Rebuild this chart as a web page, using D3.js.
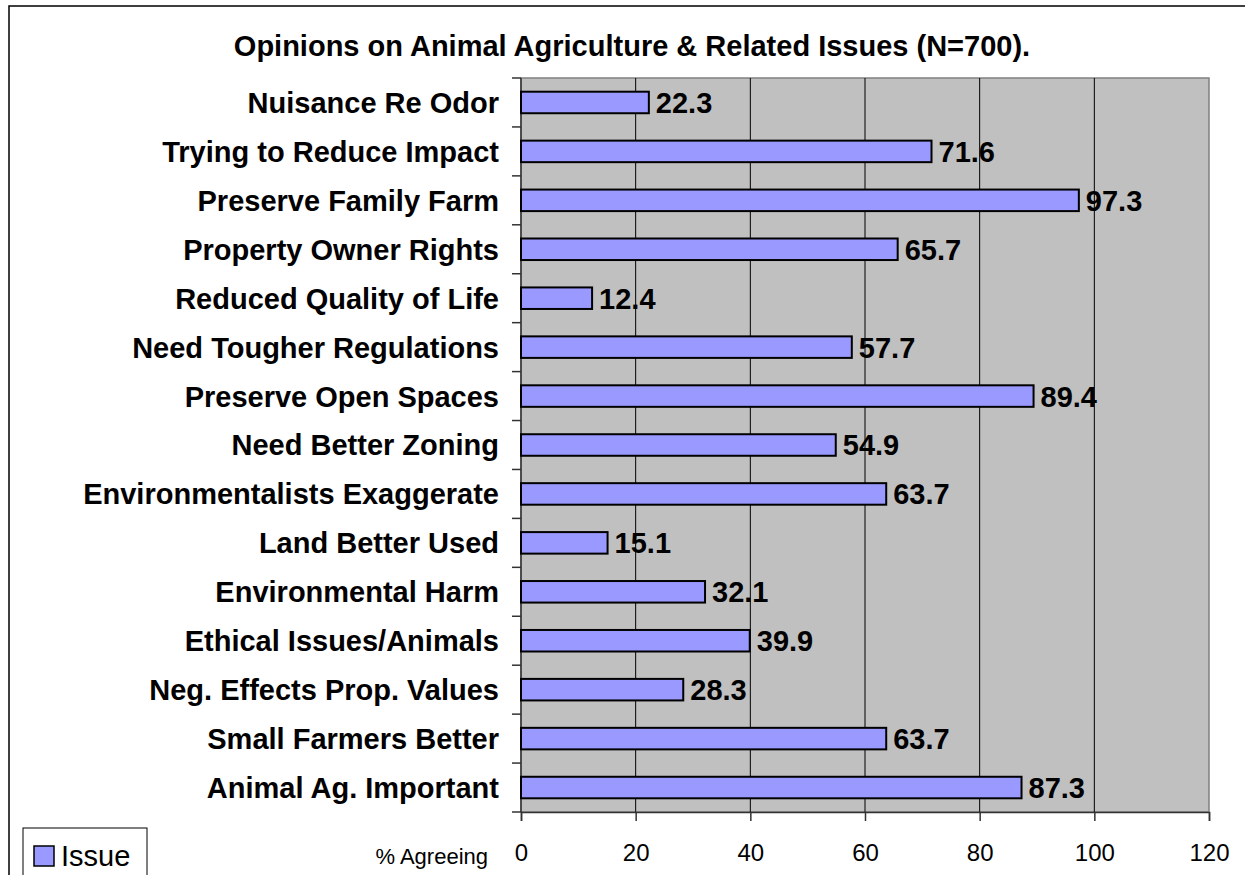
<!DOCTYPE html>
<html>
<head>
<meta charset="utf-8">
<script src="https://cdn.jsdelivr.net/npm/d3@7/dist/d3.min.js"></script>
<style>
  html, body { margin: 0; padding: 0; background: #fff; }
  svg { display: block; }
  text { font-family: "Liberation Sans", Arial, sans-serif; }
</style>
</head>
<body>
<svg id="chart" width="1245" height="875"></svg>
<script>
const categories = [
  "Nuisance Re Odor",
  "Trying to Reduce Impact",
  "Preserve Family Farm",
  "Property Owner Rights",
  "Reduced Quality of Life",
  "Need Tougher Regulations",
  "Preserve Open Spaces",
  "Need Better Zoning",
  "Environmentalists Exaggerate",
  "Land Better Used",
  "Environmental Harm",
  "Ethical Issues/Animals",
  "Neg. Effects Prop. Values",
  "Small Farmers Better",
  "Animal Ag. Important"
];
const values = [22.3, 71.6, 97.3, 65.7, 12.4, 57.7, 89.4, 54.9, 63.7, 15.1, 32.1, 39.9, 28.3, 63.7, 87.3];
const xTicks = [0, 20, 40, 60, 80, 100, 120];
const seriesName = "Issue";
const titleText = "Opinions on Animal Agriculture & Related Issues (N=700).";
const xAxisTitle = "% Agreeing";

const svg = d3.select("#chart");

// outer chart border
svg.append("rect")
  .attr("x", 9).attr("y", 6).attr("width", 1400).attr("height", 1000)
  .attr("fill", "#fff").attr("stroke", "#000").attr("stroke-width", 1.5);

const plot = { left: 521, right: 1209, top: 78, bottom: 812 };

const x = d3.scaleLinear().domain([0, 120]).range([plot.left, plot.right]);
const y = d3.scaleBand().domain(categories).range([plot.top, plot.bottom]).padding(0);

// plot background
svg.append("rect")
  .attr("x", plot.left).attr("y", plot.top)
  .attr("width", plot.right - plot.left).attr("height", plot.bottom - plot.top)
  .attr("fill", "#C0C0C0").attr("stroke", "#808080").attr("stroke-width", 1.5);

// gridlines
svg.append("g").selectAll("line")
  .data(xTicks.filter(d => d > 0 && d < 120))
  .join("line")
  .attr("x1", d => x(d)).attr("x2", d => x(d))
  .attr("y1", plot.top).attr("y2", plot.bottom)
  .attr("stroke", "#000").attr("stroke-width", 1);

// x axis
const xAxis = d3.axisBottom(x).tickValues(xTicks).tickSize(9).tickPadding(23).tickFormat(d3.format("d"));
const gx = svg.append("g").attr("transform", `translate(0,${plot.bottom})`).call(xAxis);
gx.select(".domain").attr("stroke", "#333").attr("stroke-width", 1.5);
gx.selectAll(".tick line").attr("stroke", "#333").attr("stroke-width", 1.5);
gx.selectAll(".tick text").attr("font-size", 24).attr("fill", "#000")
  .attr("font-family", "'Liberation Sans', Arial, sans-serif");

// y axis ticks at band boundaries
const boundaries = categories.map(c => y(c)).concat([plot.bottom]);
svg.append("g").selectAll("line")
  .data(boundaries)
  .join("line")
  .attr("x1", plot.left - 9).attr("x2", plot.left)
  .attr("y1", d => d).attr("y2", d => d)
  .attr("stroke", "#333").attr("stroke-width", 1.5);
svg.append("line")
  .attr("x1", plot.left).attr("x2", plot.left)
  .attr("y1", plot.top).attr("y2", plot.bottom)
  .attr("stroke", "#333").attr("stroke-width", 1.5);

// category labels
svg.append("g").selectAll("text")
  .data(categories)
  .join("text")
  .attr("x", plot.left - 22)
  .attr("y", d => y(d) + y.bandwidth() / 2)
  .attr("dy", "0.36em")
  .attr("text-anchor", "end")
  .attr("font-size", 29).attr("font-weight", "bold")
  .text(d => d);

// bars
const barH = y.bandwidth() * 0.44;
svg.append("g").selectAll("rect")
  .data(values)
  .join("rect")
  .attr("x", x(0))
  .attr("y", (d, i) => y(categories[i]) + (y.bandwidth() - barH) / 2)
  .attr("width", d => x(d) - x(0))
  .attr("height", barH)
  .attr("fill", "#9999FF").attr("stroke", "#000").attr("stroke-width", 2);

// value labels
svg.append("g").selectAll("text")
  .data(values)
  .join("text")
  .attr("x", d => x(d) + 7)
  .attr("y", (d, i) => y(categories[i]) + y.bandwidth() / 2)
  .attr("dy", "0.36em")
  .attr("font-size", 29).attr("font-weight", "bold")
  .text(d => d.toFixed(1));

// title
svg.append("text")
  .attr("x", 632).attr("y", 56)
  .attr("text-anchor", "middle")
  .attr("font-size", 29).attr("font-weight", "bold")
  .text(titleText);

// x axis title
svg.append("text")
  .attr("x", 488).attr("y", 864)
  .attr("text-anchor", "end")
  .attr("font-size", 22)
  .text(xAxisTitle);

// legend
const lg = svg.append("g");
lg.append("rect").attr("x", 23).attr("y", 828).attr("width", 124).attr("height", 80)
  .attr("fill", "#fff").attr("stroke", "#000").attr("stroke-width", 1);
lg.append("rect").attr("x", 34).attr("y", 846).attr("width", 20).attr("height", 20)
  .attr("fill", "#9999FF").attr("stroke", "#000").attr("stroke-width", 1.5);
lg.append("text").attr("x", 61).attr("y", 866).attr("font-size", 29).text(seriesName);
</script>
</body>
</html>
